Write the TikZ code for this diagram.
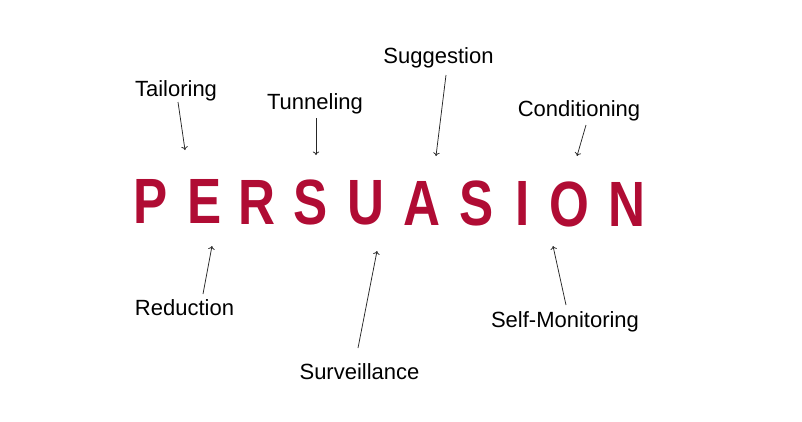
\documentclass[tikz,border=0pt]{standalone}
\usepackage{fontspec}
\setmainfont{Liberation Sans}
\usepackage{tikz}
\usetikzlibrary{arrows.meta}
\definecolor{crimson}{RGB}{176,12,52}
\tikzset{
	letter/.style={anchor=base, inner sep=0pt, text=crimson, font=\fontsize{64}{64}\selectfont\bfseries, xscale=0.8},
	label/.style={anchor=base, inner sep=0pt, font=\fontsize{22}{24}\selectfont},
	pointer/.style={-{To[length=3.5pt, width=6.5pt]}, line width=0.75pt, color=black!85}
}

\begin{document}
\begin{tikzpicture}[x=1pt, y=-1pt]
			%%%%% START %%%%%
			
			\useasboundingbox (0, 0) rectangle (802, 421);
			
			\foreach \ch/\cx [count=\i] in {P/151, E/205, R/257, S/311, U/366, A/422, S/477, I/523, O/569, N/627}
				\node[letter] (l\i) at (\cx, {223.5 + 3*(\cx-151)/476}) {\ch};
			
			\node[label] (tailoring) at (176, 96) {Tailoring};
			\node[label] (tunneling) at (315, 109) {Tunneling};
			\node[label] (suggestion) at (438.5, 63) {Suggestion};
			\node[label] (conditioning) at (579, 116) {Conditioning};
			\node[label] (reduction) at (184.5, 315) {Reduction};
			\node[label] (surveillance) at (359.5, 379) {Surveillance};
			\node[label] (selfmon) at (565, 327) {Self-Monitoring};
			
			\coordinate (tailoringA) at (178, 102);
			\coordinate (tailoringB) at (185, 150);
			\coordinate (tunnelingA) at (316, 118);
			\coordinate (tunnelingB) at (316, 155);
			\coordinate (suggestionA) at (446, 75);
			\coordinate (suggestionB) at (436, 156);
			\coordinate (conditioningA) at (586, 125);
			\coordinate (conditioningB) at (577, 156);
			\coordinate (reductionA) at (203, 294);
			\coordinate (reductionB) at (212, 246);
			\coordinate (surveillanceA) at (358, 348);
			\coordinate (surveillanceB) at (377, 251);
			\coordinate (selfmonA) at (566, 305);
			\coordinate (selfmonB) at (553, 246);
			
			\foreach \n in {tailoring, tunneling, suggestion, conditioning, reduction, surveillance, selfmon}
				\draw[pointer] (\n A) -- (\n B);
			
			%%%%% END %%%%%
		\end{tikzpicture}
\end{document}
